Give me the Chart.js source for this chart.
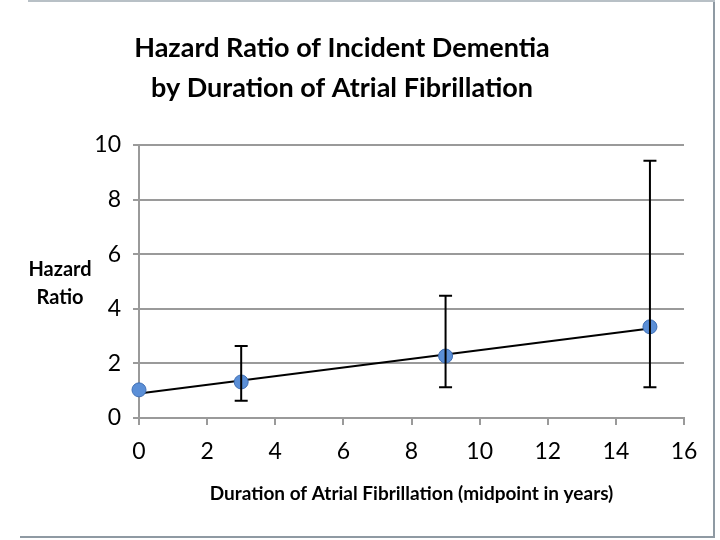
<!DOCTYPE html>
<html>
<head>
<meta charset="utf-8">
<script src="https://cdn.jsdelivr.net/npm/chart.js@4.4.0/dist/chart.umd.min.js"></script>
<style>
  html, body { margin: 0; padding: 0; background: #fff; }
  #wrap { position: relative; width: 720px; height: 540px; }
  #frame {
    position: absolute; left: 20px; top: 0; width: 693px; height: 536px;
    border-right: 2px solid #8f9aa3; border-bottom: 2px solid #8f9aa3;
    pointer-events: none;
  }
  #frame-top { position: absolute; left: 28px; top: 0; width: 687px; height: 0; border-top: 2px solid #b8c0c6; }
</style>
</head>
<body>
<div id="wrap">
  <canvas id="c" width="720" height="540"></canvas>
  <div id="frame"></div>
  <div id="frame-top"></div>
</div>
<script>
// data
var YEARS = [0, 3, 9, 15];
var HR = [1.03, 1.32, 2.27, 3.34];
var HR_LOW = [null, 0.63, 1.13, 1.13];
var HR_HIGH = [null, 2.64, 4.48, 9.42];
var TREND_X = [0, 15];
var TREND_Y = [0.9, 3.28];

var FONT = 'Lato, "Open Sans", sans-serif';

var errorBars = {
  id: 'errorBars',
  afterDatasetsDraw: function (chart) {
    var xs = chart.scales.x, ys = chart.scales.y, ctx = chart.ctx;
    ctx.save();
    ctx.strokeStyle = '#000';
    ctx.lineWidth = 2;
    for (var i = 0; i < YEARS.length; i++) {
      if (HR_LOW[i] == null) continue;
      var px = xs.getPixelForValue(YEARS[i]);
      var lo = ys.getPixelForValue(HR_LOW[i]);
      var hi = ys.getPixelForValue(HR_HIGH[i]);
      ctx.beginPath();
      ctx.moveTo(px, lo); ctx.lineTo(px, hi);
      ctx.moveTo(px - 6.5, lo); ctx.lineTo(px + 6.5, lo);
      ctx.moveTo(px - 6.5, hi); ctx.lineTo(px + 6.5, hi);
      ctx.stroke();
    }
    ctx.restore();
  },
  afterDraw: function (chart) {
    // horizontal y-axis title, as in the original slide
    var ctx = chart.ctx;
    ctx.save();
    ctx.fillStyle = '#000';
    ctx.font = 'bold 20px ' + FONT;
    ctx.textAlign = 'center';
    ctx.textBaseline = 'middle';
    ctx.fillText('Hazard', 60, 270);
    ctx.fillText('Ratio', 60, 298);
    ctx.restore();
  }
};

new Chart(document.getElementById('c').getContext('2d'), {
  data: {
    datasets: [{
      type: 'line',
      data: TREND_X.map(function (x, i) { return { x: x, y: TREND_Y[i] }; }),
      borderColor: '#000',
      borderWidth: 2,
      pointRadius: 0,
      clip: false,
      order: 2
    }, {
      type: 'scatter',
      data: YEARS.map(function (x, i) { return { x: x, y: HR[i] }; }),
      backgroundColor: '#5b8fd7',
      borderColor: '#3f6fb5',
      borderWidth: 1,
      pointRadius: 7,
      clip: false,
      order: 1
    }]
  },
  options: {
    responsive: false,
    animation: false,
    layout: { padding: { left: 0, right: 36, top: 0, bottom: 35 } },
    plugins: {
      legend: { display: false },
      tooltip: { enabled: false },
      title: {
        display: true,
        text: ['Hazard Ratio of Incident Dementia', 'by Duration of Atrial Fibrillation'],
        color: '#000',
        font: { family: FONT, size: 27, weight: 'bold', lineHeight: 1.48 },
        padding: { top: 28, bottom: 37 }
      }
    },
    scales: {
      x: {
        type: 'linear', min: 0, max: 16,
        ticks: { stepSize: 2, color: '#000', font: { family: FONT, size: 23 }, padding: 13 },
        grid: { drawOnChartArea: false, drawTicks: true, tickLength: 7, color: '#9a9a9a', lineWidth: 2 },
        border: { color: '#9a9a9a', width: 2 },
        title: {
          display: true,
          text: 'Duration of Atrial Fibrillation (midpoint in years)',
          color: '#000',
          font: { family: FONT, size: 19, weight: 'bold' },
          padding: { top: 12, bottom: 0 }
        },
        afterFit: function (s) { s.height = 87; }
      },
      y: {
        min: 0, max: 10,
        ticks: { stepSize: 2, color: '#000', font: { family: FONT, size: 23 }, padding: 12 },
        grid: { color: '#9a9a9a', lineWidth: 2, tickLength: 6 },
        border: { color: '#9a9a9a', width: 2 },
        afterFit: function (s) { s.width = 139; }
      }
    }
  },
  plugins: [errorBars]
});
</script>
</body>
</html>
